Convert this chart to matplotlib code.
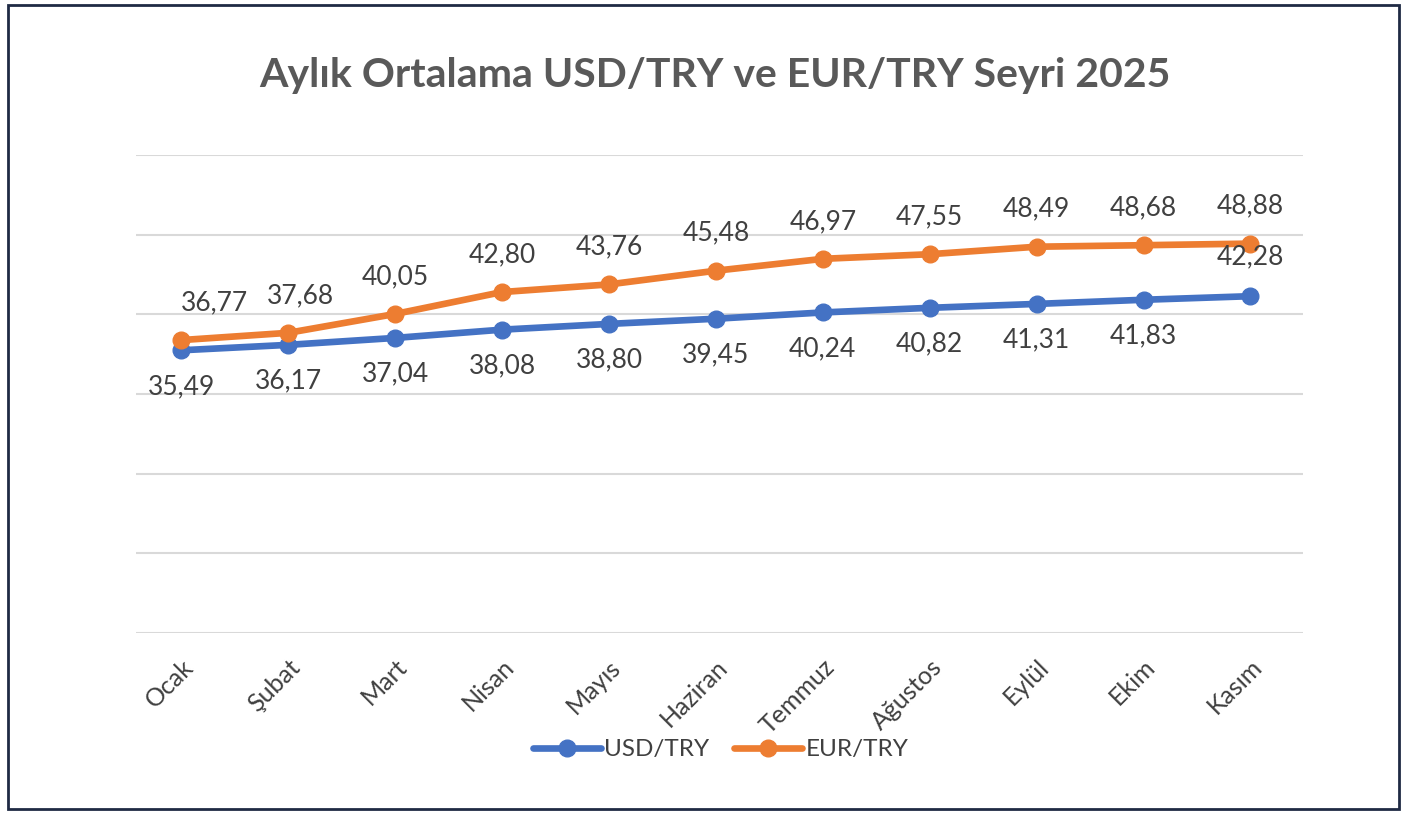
import matplotlib
matplotlib.use("Agg")
import matplotlib.pyplot as plt
from matplotlib.patches import Rectangle

plt.rcParams["font.family"] = ["Lato", "DejaVu Sans"]

months = ["Ocak", "Şubat", "Mart", "Nisan", "Mayıs", "Haziran",
          "Temmuz", "Ağustos", "Eylül", "Ekim", "Kasım"]
usd = [35.49, 36.17, 37.04, 38.08, 38.80, 39.45, 40.24, 40.82, 41.31, 41.83, 42.28]
eur = [36.77, 37.68, 40.05, 42.80, 43.76, 45.48, 46.97, 47.55, 48.49, 48.68, 48.88]

BLUE = "#4472C4"
ORANGE = "#ED7D31"
TEXT = "#404040"

fig = plt.figure(figsize=(14.07, 8.16), dpi=100)
ax = fig.add_axes([0.097, 0.2243, 0.829, 0.5857])

x = list(range(len(months)))
ax.plot(x, usd, color=BLUE, lw=4.8, marker="o", ms=12, label="USD/TRY",
        solid_capstyle="round", zorder=3)
ax.plot(x, eur, color=ORANGE, lw=4.8, marker="o", ms=12, label="EUR/TRY",
        solid_capstyle="round", zorder=3)

# data labels: EUR above, USD below (last USD label sits above its point)
for i, v in enumerate(eur):
    dx = 24 if i == 0 else (9 if i == 1 else 0)
    ax.annotate(f"{v:.2f}".replace(".", ","), (i, v), xytext=(dx, 27),
                textcoords="offset points", ha="center", va="center",
                fontsize=19, color=TEXT)
for i, v in enumerate(usd):
    dy = 28 if i == len(usd) - 1 else -26
    ax.annotate(f"{v:.2f}".replace(".", ","), (i, v), xytext=(0, dy),
                textcoords="offset points", ha="center", va="center",
                fontsize=19, color=TEXT)

ax.set_ylim(0, 60)
ax.set_xlim(-0.42, 10.49)
ax.set_yticks(range(0, 61, 10))
ax.yaxis.grid(True, color="#D9D9D9", lw=1.5)
ax.set_axisbelow(True)
ax.tick_params(axis="y", left=False, labelleft=False)
ax.tick_params(axis="x", length=0, pad=16)
ax.set_xticks(x)
ax.set_xticklabels(months, rotation=45, ha="right", rotation_mode="anchor",
                   fontsize=18, color=TEXT)
for s in ax.spines.values():
    s.set_visible(False)

fig.text(0.508, 0.908, "Aylık Ortalama USD/TRY ve EUR/TRY Seyri 2025",
         ha="center", va="center", fontsize=29.5, fontweight="bold",
         color="#595959")

fig.legend(loc="center", bbox_to_anchor=(0.512, 0.081), ncol=2, frameon=False,
           fontsize=17.5, handlelength=2.8, columnspacing=1.0, handletextpad=0.15,
           labelcolor=TEXT)

fig.patches.append(Rectangle((0.006, 0.009), 0.988, 0.985,
                             transform=fig.transFigure, fill=False,
                             edgecolor="#1F2A44", lw=2))

fig.savefig("out.png", dpi=100)
